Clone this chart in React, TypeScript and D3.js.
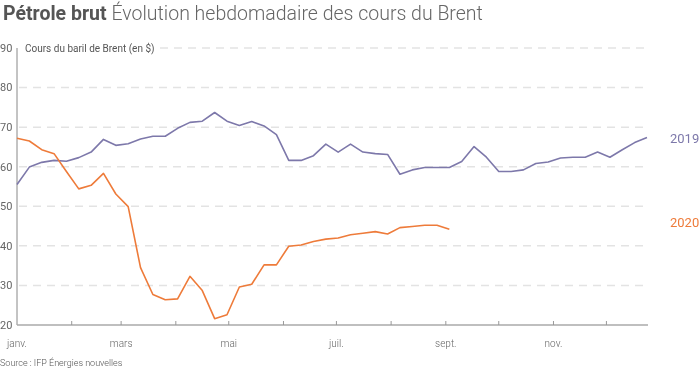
import { useRef, useEffect } from 'react'
import * as d3 from 'd3'

// Weekly Brent price ($/barrel)
const brent2019 = [
  55.5, 59.9, 61.1, 61.6, 61.4, 62.3, 63.7, 66.9, 65.4, 65.8, 67.0, 67.7, 67.7,
  69.7, 71.2, 71.5, 73.7, 71.5, 70.4, 71.4, 70.3, 68.1, 61.6, 61.6, 62.8, 65.7,
  63.7, 65.7, 63.7, 63.3, 63.1, 58.1, 59.2, 59.8, 59.8, 59.8, 61.3, 65.1, 62.4,
  58.8, 58.8, 59.2, 60.8, 61.2, 62.2, 62.4, 62.4, 63.7, 62.4, 64.3, 66.1, 67.4,
]
const brent2020 = [
  67.2, 66.5, 64.3, 63.3, 58.8, 54.4, 55.3, 58.3, 53.1, 49.9, 34.5, 27.7, 26.4,
  26.6, 32.3, 28.7, 21.6, 22.6, 29.6, 30.3, 35.2, 35.2, 39.9, 40.2, 41.1, 41.7,
  42.0, 42.8, 43.2, 43.6, 43.0, 44.6, 44.9, 45.2, 45.2, 44.2,
]
const yTicks = [20, 30, 40, 50, 60, 70, 80, 90]
const monthLabels = ['janv.', 'mars', 'mai', 'juil.', 'sept.', 'nov.']
const monthLabelIdx = [0, 2, 4, 6, 8, 10]

const purple = '#7d78aa'
const orange = '#ee7b3a'

export default function App() {
  const ref = useRef<HTMLDivElement>(null)

  useEffect(() => {
    if (!ref.current) return
    d3.select(ref.current).selectAll('*').remove()

    const W = 700
    const H = 370
    const font = 'Roboto, sans-serif'

    const svg = d3
      .select(ref.current)
      .append('svg')
      .attr('width', W)
      .attr('height', H)
      .style('display', 'block')

    const start = new Date(2019, 0, 1)
    const weekDate = (i: number) => d3.timeWeek.offset(start, i)

    const x = d3
      .scaleTime()
      .domain([start, weekDate(brent2019.length - 1)])
      .range([17, 647])
    const y = d3.scaleLinear().domain([20, 90]).range([325, 48])

    // Title
    const title = svg
      .append('text')
      .attr('x', 3)
      .attr('y', 20)
      .attr('font-family', font)
      .attr('font-size', '19.5px')
    title.append('tspan').attr('font-weight', 700).attr('fill', '#555').text('Pétrole brut ')
    title.append('tspan').attr('font-weight', 300).attr('fill', '#666').text('Évolution hebdomadaire des cours du Brent')

    // Grid lines
    svg
      .append('g')
      .selectAll('line')
      .data(yTicks.slice(1))
      .join('line')
      .attr('x1', (d) => (d === 90 ? 160 : 19))
      .attr('x2', 648)
      .attr('y1', (d) => y(d))
      .attr('y2', (d) => y(d))
      .attr('stroke', '#e3e3e3')
      .attr('stroke-width', 1.5)
      .attr('stroke-dasharray', '8,6')

    // Y tick labels
    svg
      .append('g')
      .selectAll('text')
      .data(yTicks)
      .join('text')
      .attr('x', 0)
      .attr('y', (d) => y(d))
      .attr('dy', '0.35em')
      .attr('font-family', font)
      .attr('font-size', '11px')
      .attr('fill', '#666')
      .text((d) => d)

    svg
      .append('text')
      .attr('x', 25)
      .attr('y', y(90))
      .attr('dy', '0.35em')
      .attr('font-family', font)
      .attr('font-size', '10px')
      .attr('fill', '#555')
      .text('Cours du baril de Brent (en $)')

    // Axes lines
    svg
      .append('line')
      .attr('x1', 17)
      .attr('x2', 17)
      .attr('y1', y(90))
      .attr('y2', y(20))
      .attr('stroke', '#888')
      .attr('stroke-width', 1)
    svg
      .append('line')
      .attr('x1', 17)
      .attr('x2', 648)
      .attr('y1', y(20))
      .attr('y2', y(20))
      .attr('stroke', '#aaa')
      .attr('stroke-width', 1.5)

    const months = d3.timeMonth.range(new Date(2019, 1, 1), new Date(2019, 11, 2))
    svg
      .append('g')
      .selectAll('line')
      .data(months)
      .join('line')
      .attr('x1', (d) => x(d))
      .attr('x2', (d) => x(d))
      .attr('y1', y(20) - 4)
      .attr('y2', y(20))
      .attr('stroke', '#999')

    svg
      .append('g')
      .selectAll('text')
      .data(monthLabels)
      .join('text')
      .attr('x', (_, i) => x(new Date(2019, monthLabelIdx[i], 1)))
      .attr('y', 347)
      .attr('text-anchor', 'middle')
      .attr('font-family', font)
      .attr('font-size', '10px')
      .attr('font-weight', 300)
      .attr('fill', '#666')
      .text((d) => d)

    // Lines
    const line = d3
      .line<number>()
      .x((_, i) => x(weekDate(i)))
      .y((d) => y(d))

    svg
      .append('path')
      .datum(brent2019)
      .attr('d', line)
      .attr('fill', 'none')
      .attr('stroke', purple)
      .attr('stroke-width', 1.6)
      .attr('stroke-linejoin', 'round')
    svg
      .append('path')
      .datum(brent2020)
      .attr('d', line)
      .attr('fill', 'none')
      .attr('stroke', orange)
      .attr('stroke-width', 1.6)
      .attr('stroke-linejoin', 'round')

    // Series labels
    svg
      .append('text')
      .attr('x', 670)
      .attr('y', 138)
      .attr('dy', '0.35em')
      .attr('font-family', font)
      .attr('font-size', '13px')
      .attr('fill', purple)
      .text('2019')
    svg
      .append('text')
      .attr('x', 670)
      .attr('y', 222)
      .attr('dy', '0.35em')
      .attr('font-family', font)
      .attr('font-size', '13px')
      .attr('fill', orange)
      .text('2020')

    // Source
    svg
      .append('text')
      .attr('x', 0)
      .attr('y', 366)
      .attr('font-family', font)
      .attr('font-size', '9px')
      .attr('font-weight', 300)
      .attr('fill', '#555')
      .text('Source : IFP Énergies nouvelles')
  }, [])

  return <div ref={ref} style={{ position: 'fixed', left: 0, top: 0 }} />
}
